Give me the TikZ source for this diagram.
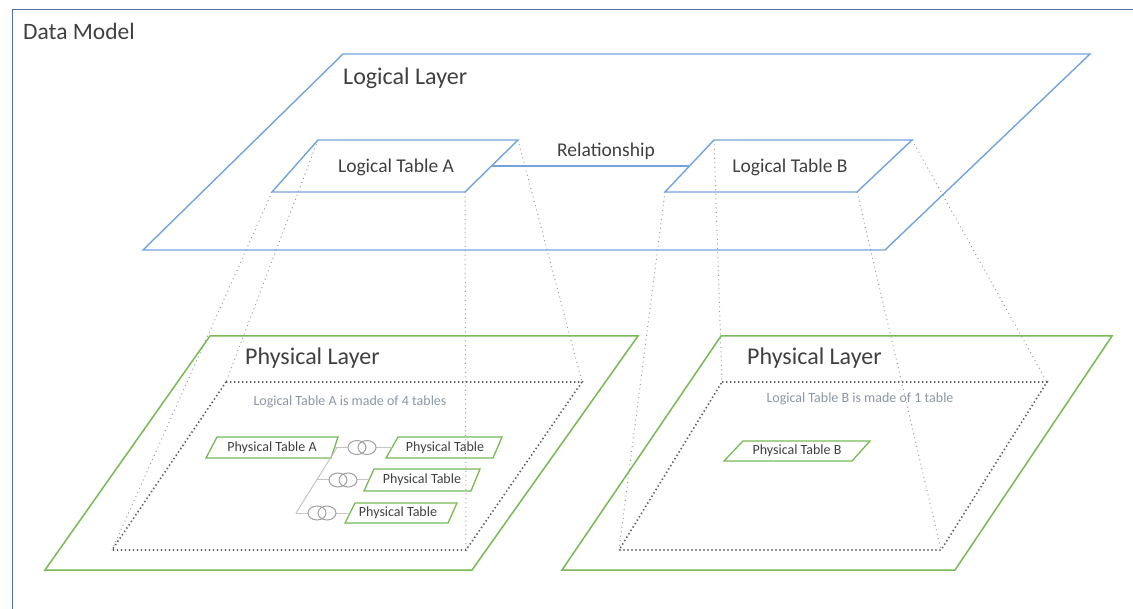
\documentclass[tikz,border=0pt]{standalone}
\usepackage{fontspec}
\setmainfont{Carlito}
\usetikzlibrary{calc}
\definecolor{frameblue}{HTML}{52729A}
\definecolor{lblue}{HTML}{72A3DA}
\definecolor{pgreen}{HTML}{78B856}
\definecolor{projgray}{HTML}{9C9C9C}
\definecolor{dotgray}{HTML}{5E5E5E}
\definecolor{conngray}{HTML}{C4C4C4}
\definecolor{ringgray}{HTML}{A0A0A0}
\definecolor{txtgray}{HTML}{404040}
\definecolor{capgray}{HTML}{8C96A3}
\newcommand\pgram[6]{%
  \coordinate (#2-tl) at #3; \coordinate (#2-tr) at #4;
  \coordinate (#2-br) at #5; \coordinate (#2-bl) at #6;
  \draw[#1] (#2-tl) -- (#2-tr) -- (#2-br) -- (#2-bl) -- cycle;}
\newcommand\ringsat[1]{%
  \draw[ring] ([xshift=-5pt]#1.center) ellipse [x radius=9pt, y radius=7pt];
  \draw[ring] ([xshift=5pt]#1.center) ellipse [x radius=9pt, y radius=7pt];}
\tikzset{
  frame/.style={draw=frameblue, line width=1.8pt},
  logic/.style={draw=lblue, line width=1.4pt},
  phys/.style={draw=pgreen, line width=1.5pt},
  ptab/.style={draw=pgreen, line width=1.3pt},
  proj/.style={draw=projgray, line width=1pt, dash pattern=on 1pt off 3.5pt},
  innerdots/.style={draw=dotgray, line width=1.6pt, dash pattern=on 1.4pt off 2.6pt},
  conn/.style={draw=conngray, line width=1pt},
  ring/.style={draw=ringgray, line width=1pt},
  icon/.style={minimum width=28pt, minimum height=14pt, inner sep=0pt},
  bigtxt/.style={text=txtgray, font=\fontsize{24}{26}\selectfont, inner sep=0pt},
  titletxt/.style={text=txtgray, font=\fontsize{23.5}{25}\selectfont, inner sep=0pt},
  midtxt/.style={text=txtgray, font=\fontsize{19.5}{21}\selectfont, inner sep=0pt},
  captxt/.style={text=capgray, font=\fontsize{14}{16}\selectfont, inner sep=0pt},
  smalltxt/.style={text=txtgray, font=\fontsize{14}{16}\selectfont, inner sep=0pt},
}
\begin{document}
\begin{tikzpicture}[x=1pt,y=-1pt]
\useasboundingbox (0,0) rectangle (1133,609);
% frame
\coordinate (fr-bl) at (12.5,609);
\coordinate (fr-tl) at (12.5,9.5);
\coordinate (fr-tr) at (1133,9.5);
\draw[frame] (fr-bl) -- (fr-tl) -- (fr-tr);
\node[titletxt, anchor=west] (title) at (23,31) {Data Model};

% coordinates of the parallelograms (drawn below)
\coordinate (ltA-tl) at (318,140); \coordinate (ltA-tr) at (518,140);
\coordinate (ltA-br) at (465,192); \coordinate (ltA-bl) at (272,192);
\coordinate (ltB-tl) at (714,140); \coordinate (ltB-tr) at (912,140);
\coordinate (ltB-br) at (857,192); \coordinate (ltB-bl) at (665,192);
\coordinate (dA-tl) at (226,382); \coordinate (dA-tr) at (582,382);
\coordinate (dA-br) at (466,550); \coordinate (dA-bl) at (112,550);
\coordinate (dB-tl) at (722,382); \coordinate (dB-tr) at (1047,382);
\coordinate (dB-br) at (941,550); \coordinate (dB-bl) at (619,550);

% projection lines
\draw[proj] (ltA-tl) -- (dA-tl);
\draw[proj] (ltA-tr) -- (dA-tr);
\draw[proj] (ltA-br) -- (dA-br);
\draw[proj] (ltA-bl) -- (dA-bl);
\draw[proj] (ltB-tl) -- (dB-tl);
\draw[proj] (ltB-tr) -- (dB-tr);
\draw[proj] (ltB-br) -- (dB-br);
\draw[proj] (ltB-bl) -- (dB-bl);

% logical layer
\pgram{logic}{LL}{(343,54)}{(1090,54)}{(885,250)}{(143,250)}
\node[bigtxt, anchor=west] (lltxt) at (343,78) {Logical Layer};
\draw[logic] (ltA-tl) -- (ltA-tr) -- (ltA-br) -- (ltA-bl) -- cycle;
\draw[logic] (ltB-tl) -- (ltB-tr) -- (ltB-br) -- (ltB-bl) -- cycle;
\node[midtxt] (ltAtxt) at (396,167) {Logical Table A};
\node[midtxt] (ltBtxt) at (790,167) {Logical Table B};
\coordinate (ltA-r) at ($(ltA-tr)!.5!(ltA-br)$);
\coordinate (ltB-l) at ($(ltB-tl)!.5!(ltB-bl)$);
\draw[logic] (ltA-r) -- (ltB-l);
\node[midtxt] (rel) at (606,151) {Relationship};

% physical layers
\pgram{phys}{PA}{(210,336)}{(638,336)}{(472,570)}{(45,570)}
\pgram{phys}{PB}{(721,336)}{(1112,336)}{(955,570)}{(562,570)}
\node[bigtxt, anchor=west] (patxt) at (245,358) {Physical Layer};
\node[bigtxt, anchor=west] (pbtxt) at (747,358) {Physical Layer};
\draw[innerdots] (dA-tl) -- (dA-tr) -- (dA-br) -- (dA-bl) -- cycle;
\draw[innerdots] (dB-tl) -- (dB-tr) -- (dB-br) -- (dB-bl) -- cycle;
\node[captxt] (capA) at (350,402) {Logical Table A is made of 4 tables};
\node[captxt] (capB) at (860,399) {Logical Table B is made of 1 table};

% physical tables
\pgram{ptab}{ptA}{(217,437)}{(338,437)}{(331,458)}{(206,458)}
\pgram{ptab}{pt1}{(398,437)}{(502,437)}{(493,458)}{(386,458)}
\pgram{ptab}{pt2}{(374,469)}{(480,469)}{(471,491)}{(364,491)}
\pgram{ptab}{pt3}{(355,503)}{(457,503)}{(448,523)}{(345,523)}
\pgram{ptab}{ptB}{(743,441)}{(870,441)}{(852,461)}{(724,461)}
\node[smalltxt] (ptAtxt) at (272,447.5) {Physical Table A};
\node[smalltxt] (pt1txt) at (445,447.5) {Physical Table};
\node[smalltxt] (pt2txt) at (422,480) {Physical Table};
\node[smalltxt] (pt3txt) at (398,513) {Physical Table};
\node[smalltxt] (ptBtxt) at (797,451) {Physical Table B};

% joins
\coordinate (ptA-r) at ($(ptA-tr)!.5!(ptA-br)$);
\coordinate (pt1-l) at ($(pt1-tl)!.5!(pt1-bl)$);
\coordinate (pt2-l) at ($(pt2-tl)!.5!(pt2-bl)$);
\coordinate (pt3-l) at ($(pt3-tl)!.5!(pt3-bl)$);
\coordinate (j1) at (337,447.5);
\coordinate (j3) at (296,513);
\coordinate (j2) at (316.5,480);
\node[icon] (i1) at (362,447.5) {};
\node[icon] (i2) at (343,480) {};
\node[icon] (i3) at (322,513) {};
\draw[conn] (j1) -- (j3);
\draw[conn] (ptA-r) -- (i1);
\draw[conn] (i1) -- (pt1-l);
\draw[conn] (j2) -- (i2);
\draw[conn] (i2) -- (pt2-l);
\draw[conn] (j3) -- (i3);
\draw[conn] (i3) -- (pt3-l);
\ringsat{i1}
\ringsat{i2}
\ringsat{i3}
\end{tikzpicture}
\end{document}
